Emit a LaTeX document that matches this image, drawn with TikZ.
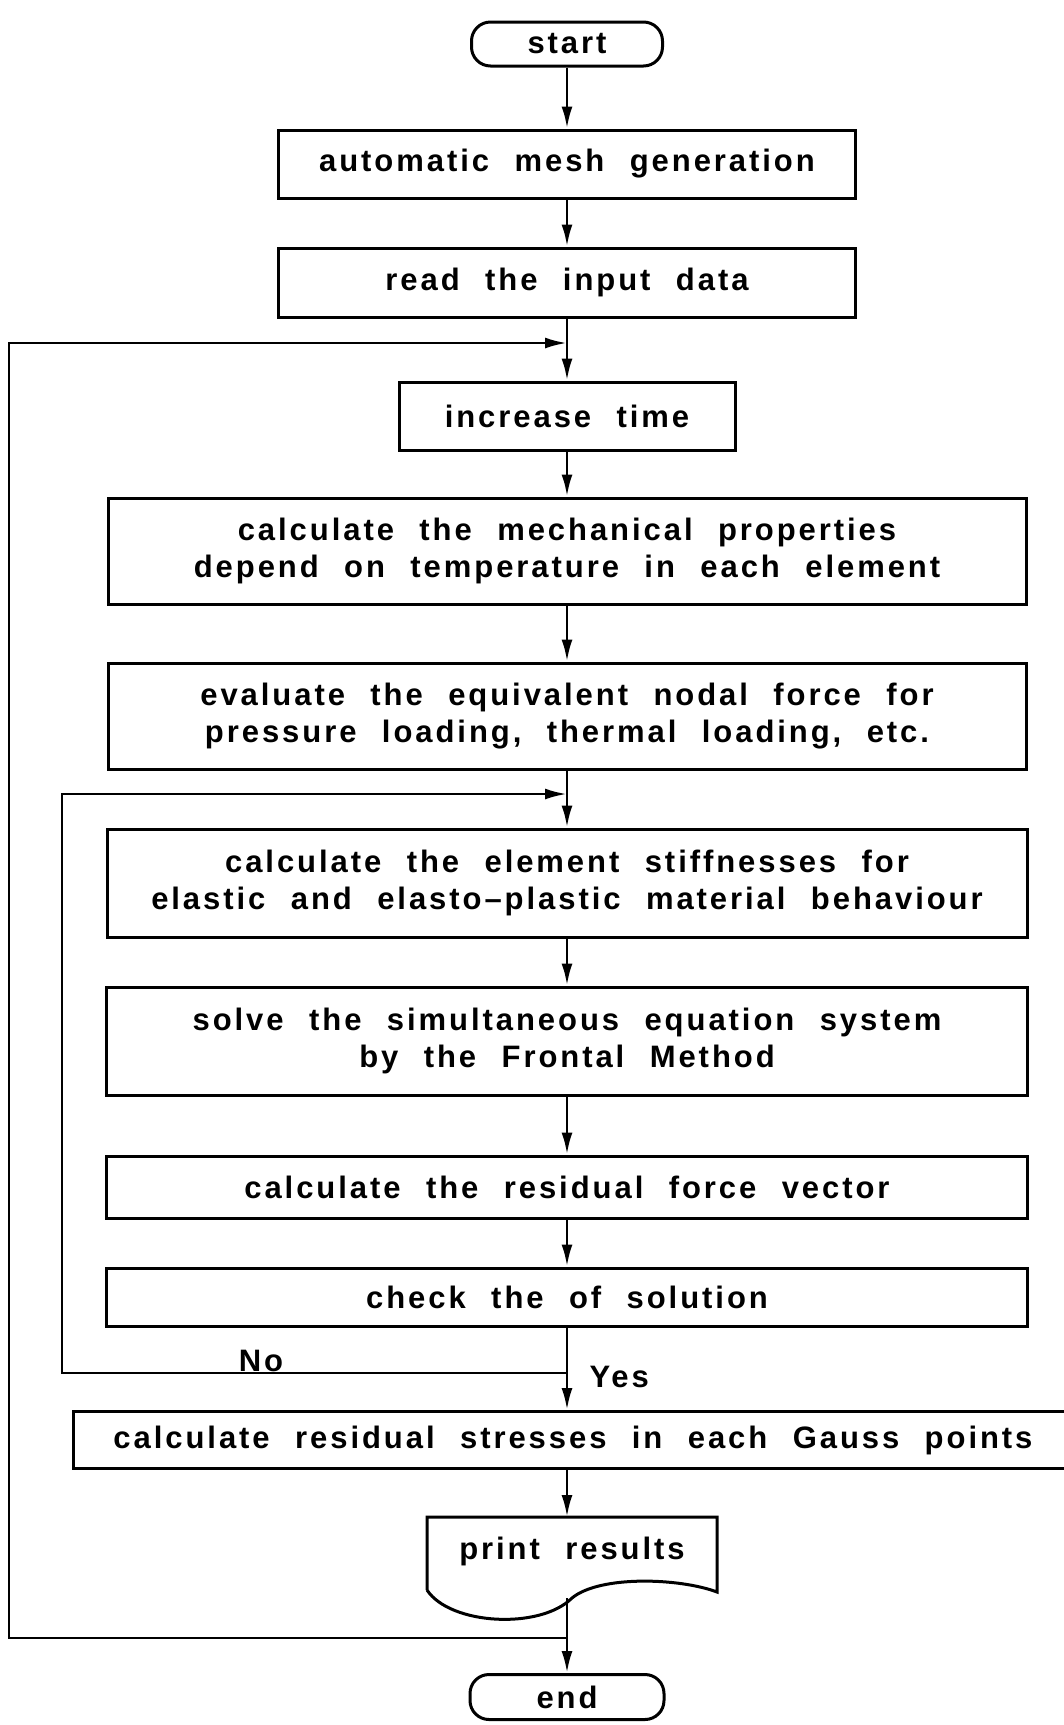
\documentclass[tikz,border=0pt]{standalone}
\usepackage{fontspec}
\setmainfont{Liberation Sans}[LetterSpace=9.5, WordSpace=2.2]
\usetikzlibrary{arrows.meta}

\tikzset{
  lbl/.style={font=\fontsize{31}{37}\selectfont\bfseries},
  proc/.style={draw, rectangle, line width=3pt, align=center, inner sep=0pt, lbl},
  term/.style={draw, rectangle, rounded corners=19pt, line width=3pt, inner sep=0pt, lbl},
  conn/.style={line width=2.8pt, -{Latex[length=22pt,width=11pt]}}
}

\begin{document}
\begin{tikzpicture}[x=1pt, y=-1pt]
  \useasboundingbox (0,0) rectangle (1064,1725);
  \clip (0,0) rectangle (1064,1725);
  \fill[white] (0,0) rectangle (1064,1725);

  % process steps
  \node[term, minimum width=191pt, minimum height=44pt] (start) at (567,44) {start};
  \node[proc, minimum width=577pt, minimum height=68pt] (mesh) at (567,164) {automatic mesh generation};
  \node[proc, minimum width=577pt, minimum height=69pt] (input) at (567,282.5) {read the input data};
  \node[proc, minimum width=336pt, minimum height=68pt] (time) at (567,416) {increase time};
  \node[proc, minimum width=918pt, minimum height=106pt] (mech) at (567,551)
    {calculate the mechanical properties\\depend on temperature in each element};
  \node[proc, minimum width=918pt, minimum height=106pt] (nodal) at (567,716)
    {evaluate the equivalent nodal force for\\pressure loading, thermal loading, etc.};
  \node[proc, minimum width=920pt, minimum height=108pt] (stiff) at (567,883)
    {calculate the element stiffnesses for\\elastic and elasto–plastic material behaviour};
  \node[proc, minimum width=921pt, minimum height=108pt] (solve) at (567,1041)
    {solve the simultaneous equation system\\by the Frontal Method};
  \node[proc, minimum width=921pt, minimum height=62pt] (resid) at (567,1187)
    {calculate the residual force vector};
  \node[proc, minimum width=921pt, minimum height=58pt] (check) at (567,1297)
    {check the of solution};
  \node[proc, minimum width=1000pt, minimum height=57pt] (stress) at (573,1440)
    {calculate residual stresses in each Gauss points};

  % document symbol for the output
  \draw[line width=3pt] (427,1590) -- (427,1517) -- (717,1517) -- (717,1592)
    .. controls (680,1578) and (600,1575) .. (572,1598)
    .. controls (540,1630) and (450,1625) .. (427,1590);
  \node[lbl] (print) at (572,1551) {print results};
  \coordinate (printtop) at (567,1517);
  \coordinate (printbot) at (567,1598);

  \node[term, minimum width=194pt, minimum height=45pt] (end) at (567,1697) {end};

  % main flow
  \draw[conn] (start) -- (mesh);
  \draw[conn] (mesh) -- (input);
  \draw[conn] (input) -- (time);
  \draw[conn] (time) -- (mech);
  \draw[conn] (mech) -- (nodal);
  \draw[conn] (nodal) -- (stiff);
  \draw[conn] (stiff) -- (solve);
  \draw[conn] (solve) -- (resid);
  \draw[conn] (resid) -- (check);
  \draw[conn] (check.south) -- (check.south |- stress.north);
  \draw[conn] (check.south |- stress.south) -- (printtop);
  \draw[conn] (printbot) -- (end);

  % iteration loop (not converged)
  \coordinate (j2) at (567,1373);
  \coordinate (l2) at (62,1373);
  \coordinate (m2) at (567,794);
  \draw[conn] (j2) -- (l2) |- (m2);
  \node[lbl, anchor=south] (no) at (261,1375) {No};
  \node[lbl, anchor=west] (yes) at (586,1377) {Yes};

  % time step loop
  \coordinate (j1) at (567,1638);
  \coordinate (l1) at (9,1638);
  \coordinate (m1) at (567,343);
  \draw[conn] (j1) -- (l1) |- (m1);
\end{tikzpicture}
\end{document}
